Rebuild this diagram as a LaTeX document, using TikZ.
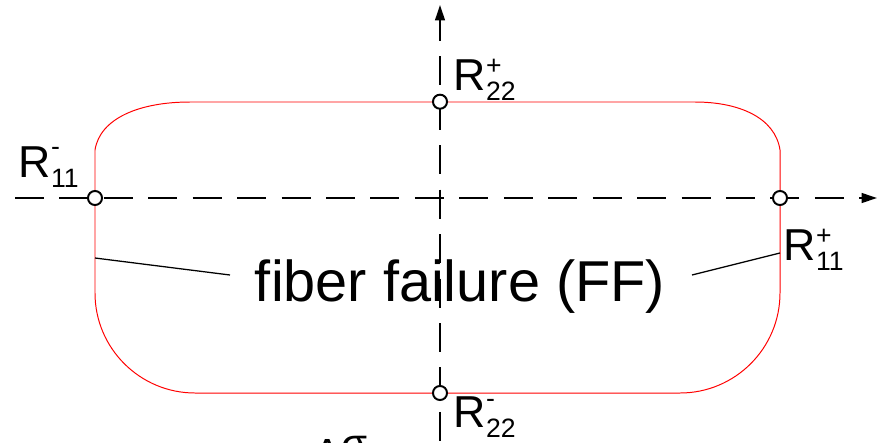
\documentclass[tikz,border=0pt]{standalone}
\usepackage{fontspec}
\setmainfont{Liberation Sans}
\usetikzlibrary{arrows.meta}
\newcommand\smallfs{\fontsize{18.9}{20}\selectfont}
\newcommand\Rlab[3]{R\rlap{\raisebox{#3}{\smallfs #1}}\raisebox{-7.8pt}{\smallfs #2}}
\tikzset{
  axis/.style={line width=1.3pt, dash pattern=on 20.6pt off 11pt},
  axtip/.style={line width=1.3pt, -{Triangle[length=11pt,width=7pt]}},
  pt/.style={circle, draw=black, fill=white, line width=1.4pt, minimum size=10pt, inner sep=0pt},
  envelope/.style={draw=red, line width=0.7pt},
  leader/.style={draw=black, line width=0.9pt},
  lab/.style={inner sep=0pt, anchor=base west, font=\fontsize{31.8}{34}\selectfont},
}
\begin{document}
\begin{tikzpicture}[x=0.025cm, y=-0.025cm]
\useasboundingbox (0,0) rectangle (880,442);
\clip (0,0) rectangle (880,442);
% envelope
\draw[envelope] (95,150) -- (95,293)
  .. controls (95,348.2) and (139.8,393) .. (195,393)
  -- (680,393)
  .. controls (735.2,393) and (780,348.2) .. (780,293)
  -- (780,150)
  .. controls (775,117) and (738,102) .. (695,102)
  -- (190,102)
  .. controls (140,102) and (100,118) .. (95,150) -- cycle;
% axes
\coordinate (xl) at (15,198);
\coordinate (xe) at (862,198);
\coordinate (xa) at (860,198);
\coordinate (xt) at (877,198);
\coordinate (yb) at (440,450);
\coordinate (ys) at (440,12);
\coordinate (ya) at (440,22);
\coordinate (yt) at (440,5);
\draw[axis] (xl) -- (xe);
\draw[axtip] (xa) -- (xt);
\draw[axis] (ys) -- (yb);
\draw[axtip] (ya) -- (yt);
% leader lines
\coordinate (ll1) at (95,258);
\coordinate (ll2) at (230,275);
\coordinate (lr1) at (692,275);
\coordinate (lr2) at (780,253);
\draw[leader] (ll1) -- (ll2);
\draw[leader] (lr1) -- (lr2);
% points
\node[pt] (c11m) at (95,198) {};
\node[pt] (c11p) at (780,198) {};
\node[pt] (c22p) at (440,101.7) {};
\node[pt] (c22m) at (440,393) {};
% labels
\node[lab] (r11m) at (18.5,177) {\Rlab{-}{11}{15pt}};
\node[lab] (r22p) at (453.5,90) {\Rlab{+}{22}{11pt}};
\node[lab] (r11p) at (783.5,260) {\Rlab{+}{11}{11pt}};
\node[lab] (r22m) at (453.5,427) {\Rlab{-}{22}{14pt}};
\node[inner sep=0pt, anchor=base, font=\fontsize{41}{44}\selectfont] (ff) at (460,301) {fiber failure (FF)};
\node[inner sep=0pt, anchor=base west, font=\fontsize{30}{32}\selectfont] (ds) at (313,468) {Δ\raisebox{6.8pt}{σ}};
\end{tikzpicture}
\end{document}
